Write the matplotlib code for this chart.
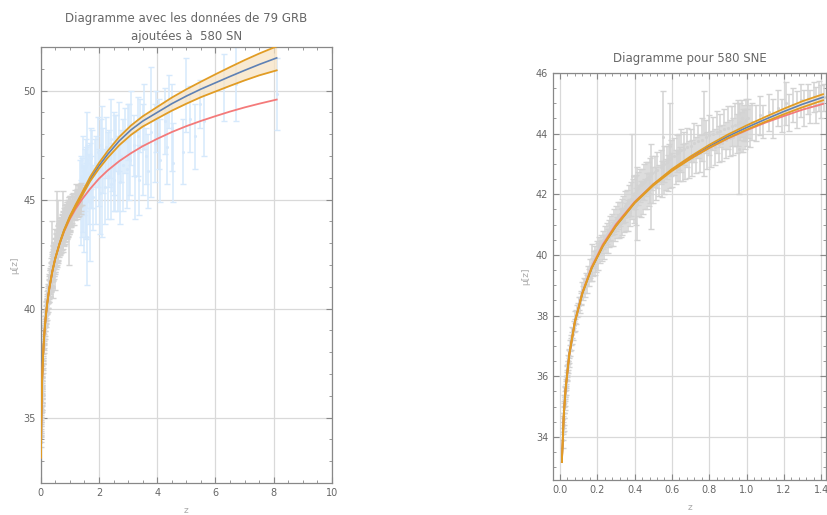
import numpy as np
import matplotlib.pyplot as plt
from matplotlib.ticker import MultipleLocator

sn_z = [0.015, 0.016, 0.017, 0.018, 0.019, 0.02, 0.021, 0.022, 0.023, 0.024,
        0.025, 0.026, 0.027, 0.028, 0.029, 0.03, 0.031, 0.032, 0.034, 0.035,
        0.037, 0.038, 0.04, 0.041, 0.043, 0.045, 0.047, 0.049, 0.05, 0.052,
        0.055, 0.058, 0.06, 0.063, 0.066, 0.07, 0.074, 0.078, 0.083, 0.088,
        0.092, 0.097, 0.1, 0.105, 0.11, 0.115, 0.12, 0.125, 0.13, 0.135,
        0.14, 0.145, 0.15, 0.155, 0.16, 0.165, 0.17, 0.175, 0.18, 0.185,
        0.19, 0.195, 0.2, 0.205, 0.21, 0.215, 0.22, 0.225, 0.23, 0.235,
        0.24, 0.245, 0.25, 0.255, 0.26, 0.265, 0.27, 0.275, 0.28, 0.285,
        0.29, 0.295, 0.3, 0.305, 0.31, 0.315, 0.32, 0.325, 0.33, 0.335,
        0.34, 0.345, 0.35, 0.355, 0.36, 0.365, 0.37, 0.375, 0.38, 0.385,
        0.39, 0.395, 0.4, 0.405, 0.41, 0.415, 0.42, 0.425, 0.43, 0.435,
        0.44, 0.445, 0.45, 0.455, 0.46, 0.465, 0.47, 0.475, 0.48, 0.485,
        0.49, 0.495, 0.5, 0.51, 0.515, 0.52, 0.53, 0.54, 0.545, 0.55,
        0.555, 0.56, 0.57, 0.575, 0.58, 0.585, 0.59, 0.595, 0.6, 0.61,
        0.62, 0.625, 0.63, 0.64, 0.645, 0.65, 0.66, 0.665, 0.67, 0.68,
        0.69, 0.7, 0.71, 0.72, 0.73, 0.74, 0.75, 0.76, 0.77, 0.78,
        0.79, 0.8, 0.81, 0.82, 0.83, 0.84, 0.85, 0.86, 0.87, 0.88,
        0.89, 0.9, 0.91, 0.92, 0.93, 0.94, 0.95, 0.955, 0.96, 0.965,
        0.97, 0.975, 0.98, 0.985, 0.99, 0.995, 1.0, 1.01, 1.02, 1.03,
        1.05, 1.07, 1.09, 1.12, 1.14, 1.17, 1.19, 1.21, 1.23, 1.25,
        1.27, 1.29, 1.31, 1.33, 1.34, 1.36, 1.37, 1.39, 1.4, 1.414]
sn_mu = [34.1, 33.9, 34.3, 34.5, 34.4, 34.8, 34.6, 34.95, 35.0, 35.2,
         35.1, 35.35, 35.2, 35.5, 35.45, 35.7, 35.55, 35.75, 35.85, 36.0,
         36.05, 36.2, 36.15, 36.35, 36.3, 36.55, 36.5, 36.75, 36.65, 36.85,
         37.0, 37.05, 37.2, 37.25, 37.45, 37.4, 37.65, 37.7, 37.95, 37.95,
         38.15, 38.2, 38.4, 38.35, 38.6, 38.55, 38.85, 38.75, 39.0, 38.9,
         39.2, 39.05, 39.4, 39.25, 39.55, 39.4, 39.75, 39.6, 39.85, 39.65,
         40.0, 39.8, 40.15, 39.95, 40.3, 40.1, 40.35, 40.15, 40.5, 40.25,
         40.6, 40.35, 40.7, 40.45, 40.8, 40.55, 40.9, 40.65, 41.0, 40.7,
         41.1, 40.8, 41.2, 40.9, 41.3, 40.95, 41.35, 41.05, 41.45, 41.1,
         41.5, 41.15, 41.6, 41.25, 41.7, 41.3, 41.8, 41.4, 41.85, 42.6,
         42.0, 41.55, 42.05, 41.6, 42.15, 41.7, 42.2, 41.8, 42.3, 41.85,
         42.35, 41.9, 42.4, 42.0, 42.5, 42.1, 42.55, 42.15, 42.6, 42.2,
         42.25, 42.7, 42.3, 42.75, 42.35, 42.8, 42.45, 42.9, 42.5, 43.9,
         42.55, 43.0, 42.65, 43.05, 42.7, 43.15, 43.6, 43.2, 42.8, 43.25,
         42.9, 43.35, 42.95, 43.4, 43.0, 43.45, 43.05, 43.5, 43.1, 43.55,
         43.15, 43.6, 43.2, 43.7, 43.3, 43.75, 43.35, 43.8, 44.0, 43.9,
         43.45, 43.95, 43.5, 44.0, 43.55, 44.05, 43.65, 44.1, 43.7, 44.15,
         43.8, 44.2, 43.85, 44.25, 43.9, 44.3, 44.0, 44.35, 43.5, 44.4,
         44.05, 44.5, 44.1, 44.35, 44.15, 44.45, 44.2, 44.5, 44.25, 44.4,
         44.35, 44.6, 44.4, 44.7, 44.5, 44.85, 44.6, 45.0, 44.7, 44.95,
         44.8, 45.1, 44.85, 45.15, 44.9, 45.2, 44.95, 45.25, 45.05, 45.2]
sn_err = [0.2, 0.25, 0.2, 0.2, 0.22, 0.18, 0.2, 0.17, 0.2, 0.18,
          0.2, 0.16, 0.18, 0.17, 0.2, 0.16, 0.18, 0.15, 0.17, 0.15,
          0.16, 0.17, 0.18, 0.15, 0.2, 0.16, 0.18, 0.15, 0.2, 0.17,
          0.18, 0.2, 0.17, 0.2, 0.18, 0.2, 0.18, 0.2, 0.2, 0.22,
          0.2, 0.22, 0.2, 0.25, 0.22, 0.2, 0.25, 0.22, 0.25, 0.3,
          0.22, 0.3, 0.25, 0.28, 0.3, 0.25, 0.6, 0.3, 0.28, 0.3,
          0.3, 0.35, 0.3, 0.45, 0.3, 0.35, 0.3, 0.35, 0.3, 0.4,
          0.35, 0.3, 0.35, 0.4, 0.35, 0.3, 0.4, 0.35, 0.35, 0.4,
          0.4, 0.35, 0.4, 0.35, 0.45, 0.4, 0.4, 0.45, 0.4, 0.45,
          0.45, 0.4, 0.5, 0.45, 0.45, 0.5, 0.5, 0.45, 0.55, 1.4,
          0.5, 0.5, 0.55, 0.6, 0.5, 1.2, 0.55, 0.5, 0.55, 0.6,
          0.5, 0.55, 0.6, 0.5, 0.55, 0.6, 0.5, 0.55, 0.6, 0.5,
          1.4, 0.55, 0.6, 0.5, 0.55, 0.6, 0.5, 0.55, 0.6, 1.5,
          0.55, 0.6, 0.5, 0.55, 0.6, 0.5, 1.4, 0.6, 0.55, 0.6,
          0.55, 0.6, 0.5, 0.6, 0.55, 0.7, 0.6, 0.55, 0.6, 0.65,
          0.6, 0.55, 0.6, 0.65, 0.6, 0.55, 0.6, 0.7, 1.4, 0.55,
          0.6, 0.65, 0.6, 0.55, 0.6, 0.7, 0.6, 0.55, 0.6, 0.65,
          0.6, 0.7, 0.6, 0.65, 0.6, 0.7, 0.65, 0.75, 1.5, 0.6,
          0.65, 0.6, 0.7, 0.6, 0.65, 0.7, 0.6, 0.65, 0.7, 0.6,
          0.6, 0.65, 0.55, 0.6, 0.65, 0.6, 0.55, 0.7, 0.6, 0.55,
          0.6, 0.55, 0.6, 0.5, 0.55, 0.5, 0.6, 0.5, 0.55, 0.45]

# donnees GRB (graphe de gauche)
grb_z = [1.35, 1.38, 1.40, 1.42, 1.44, 1.46, 1.48, 1.50, 1.52, 1.54,
         1.55, 1.57, 1.58, 1.60, 1.61, 1.65, 1.69, 1.71, 1.73, 1.77,
         1.80, 1.85, 1.90, 1.95, 2.00, 2.05, 2.07, 2.10, 2.14, 2.20,
         2.25, 2.30, 2.35, 2.40, 2.43, 2.45, 2.50, 2.52, 2.55, 2.60,
         2.66, 2.70, 2.71, 2.75, 2.82, 2.90, 2.95, 3.00, 3.04, 3.08,
         3.10, 3.20, 3.24, 3.35, 3.36, 3.42, 3.50, 3.53, 3.60, 3.70,
         3.80, 3.91, 3.97, 4.05, 4.10, 4.27, 4.35, 4.41, 4.50, 4.53,
         4.90, 5.00, 5.11, 5.30, 5.47, 5.60, 6.29, 6.70, 8.10]
grb_mu = [45.6, 44.4, 46.0, 45.1, 44.8, 46.3, 45.4, 44.6, 45.9, 46.6,
          45.0, 45.3, 46.8, 43.3, 46.2, 45.5, 44.9, 46.9, 45.8, 46.4,
          45.1, 46.7, 45.9, 47.2, 46.0, 45.3, 47.5, 46.3, 46.8, 45.6,
          47.4, 46.1, 46.9, 45.7, 47.8, 46.5, 47.1, 45.9, 46.7, 47.6,
          46.2, 47.9, 45.8, 47.0, 46.6, 47.7, 46.4, 48.1, 47.2, 46.8,
          48.3, 47.5, 46.1, 47.9, 45.9, 48.4, 47.3, 48.8, 47.0, 46.3,
          48.1, 47.6, 48.6, 48.0, 46.8, 48.6, 47.4, 49.5, 48.3, 46.7,
          47.2, 49.8, 48.7, 47.9, 49.4, 48.6, 50.15, 50.3, 49.85]
grb_err = [1.2, 1.5, 1.0, 1.8, 1.3, 1.6, 1.1, 2.0, 1.4, 1.2,
           1.7, 2.1, 2.2, 2.2, 1.3, 1.6, 2.7, 1.4, 1.2, 1.8,
           1.5, 1.1, 2.0, 1.6, 1.3, 1.9, 1.2, 3.0, 1.5, 1.7,
           1.4, 2.0, 1.3, 1.6, 1.8, 1.1, 1.9, 1.4, 2.2, 1.3,
           1.7, 1.6, 1.9, 1.2, 2.1, 1.5, 1.8, 1.3, 2.2, 1.6,
           1.7, 1.4, 2.0, 1.8, 1.6, 1.2, 2.1, 1.5, 1.3, 1.7,
           3.0, 1.8, 1.4, 1.6, 1.9, 1.5, 1.7, 1.2, 2.0, 1.8,
           1.5, 1.7, 1.5, 1.5, 1.1, 1.6, 1.55, 1.7, 1.65]

cg_z = [0.01, 0.02, 0.03, 0.05, 0.07, 0.1, 0.13, 0.17, 0.22, 0.3,
        0.4, 0.5, 0.65, 0.8, 1.0, 1.2, 1.4, 1.7, 2.0, 2.3,
        2.7, 3.1, 3.5, 4.0, 4.5, 5.0, 5.5, 6.0, 6.5, 7.0,
        7.5, 8.1]
cg_rouge = [33.17, 34.7, 35.58, 36.73, 37.48, 38.31, 38.93, 39.57, 40.2, 40.96,
            41.71, 42.3, 42.99, 43.53, 44.11, 44.58, 44.98, 45.5, 45.96, 46.34,
            46.77, 47.13, 47.45, 47.79, 48.1, 48.37, 48.61, 48.83, 49.04, 49.23,
            49.4, 49.59]
cg_bleu = [33.17, 34.7, 35.58, 36.73, 37.48, 38.31, 38.93, 39.57, 40.2, 40.96,
           41.71, 42.3, 42.99, 43.58, 44.2, 44.72, 45.2, 45.95, 46.55, 47.08,
           47.7, 48.2, 48.6, 49.0, 49.4, 49.75, 50.07, 50.36, 50.65, 50.93,
           51.2, 51.5]
cg_haut = [33.17, 34.7, 35.58, 36.73, 37.48, 38.31, 38.93, 39.57, 40.2, 40.96,
           41.72, 42.31, 43.01, 43.6, 44.24, 44.77, 45.27, 46.05, 46.68, 47.23,
           47.88, 48.4, 48.82, 49.25, 49.68, 50.06, 50.41, 50.75, 51.08, 51.4,
           51.7, 52.03]
cg_bas = [33.17, 34.7, 35.58, 36.73, 37.48, 38.31, 38.93, 39.57, 40.2, 40.96,
          41.7, 42.29, 42.97, 43.55, 44.16, 44.67, 45.13, 45.85, 46.42, 46.92,
          47.5, 47.97, 48.35, 48.72, 49.08, 49.4, 49.7, 49.96, 50.22, 50.47,
          50.7, 50.93]

cd_z = [0.01, 0.02, 0.03, 0.05, 0.08, 0.12, 0.17, 0.23, 0.3, 0.4,
        0.5, 0.6, 0.7, 0.8, 0.9, 1.0, 1.1, 1.2, 1.3, 1.41]
cd_rouge = [33.17, 34.7, 35.58, 36.73, 37.8, 38.76, 39.61, 40.35, 41.01, 41.75,
            42.33, 42.8, 43.19, 43.53, 43.84, 44.11, 44.36, 44.58, 44.79, 44.98]
cd_bleu = [33.17, 34.7, 35.58, 36.73, 37.8, 38.74, 39.57, 40.3, 40.96, 41.72,
           42.31, 42.8, 43.21, 43.58, 43.91, 44.2, 44.47, 44.73, 44.97, 45.2]
cd_haut = [33.17, 34.7, 35.58, 36.73, 37.8, 38.74, 39.57, 40.3, 40.97, 41.73,
           42.33, 42.83, 43.25, 43.63, 43.97, 44.27, 44.55, 44.82, 45.07, 45.3]
cd_bas = [33.17, 34.7, 35.58, 36.73, 37.8, 38.74, 39.57, 40.3, 40.95, 41.71,
          42.29, 42.77, 43.17, 43.53, 43.85, 44.13, 44.39, 44.64, 44.87, 45.1]

BLEU = '#5e81b5'
ORANGE = '#e19c24'
ROUGE = '#f47a7a'
BANDE = '#f8e4c4'
GRIS_SN = '#d3d3d3'
BLEU_GRB = '#d6e9fc'
TXT = '#666666'


def cadre(ax, xmaj, xmin, ymaj, ymin):
    ax.xaxis.set_major_locator(MultipleLocator(xmaj))
    ax.xaxis.set_minor_locator(MultipleLocator(xmin))
    ax.yaxis.set_major_locator(MultipleLocator(ymaj))
    ax.yaxis.set_minor_locator(MultipleLocator(ymin))
    ax.tick_params(which='both', direction='in', top=True, right=True,
                   color='#888888', labelsize=7, labelcolor=TXT)
    ax.tick_params(which='major', length=4, width=0.8)
    ax.tick_params(which='minor', length=2.5, width=0.6)
    for s in ax.spines.values():
        s.set_color('#888888')
        s.set_linewidth(0.9)
    ax.grid(True, which='major', color='#d9d9d9', linewidth=0.9)
    ax.set_axisbelow(True)


def courbes(ax, z, rouge, bleu, haut, bas):
    ax.fill_between(z, bas, haut, color=BANDE, alpha=0.75, lw=0, zorder=2.5)
    ax.plot(z, bleu, color=BLEU, lw=1.2, zorder=3)
    ax.plot(z, rouge, color=ROUGE, lw=1.3, zorder=4)
    ax.plot(z, haut, color=ORANGE, lw=1.3, zorder=5)
    ax.plot(z, bas, color=ORANGE, lw=1.3, zorder=5)


fig = plt.figure(figsize=(8.27, 5.15), dpi=100)

# graphe de gauche
ax1 = fig.add_axes([0.0492, 0.0621, 0.3523, 0.8466])
ax1.errorbar(grb_z, grb_mu, yerr=grb_err, fmt='o', ms=1.2, color=BLEU_GRB,
             ecolor=BLEU_GRB, elinewidth=1.1, capsize=2, capthick=1, zorder=1)
ax1.errorbar(sn_z, sn_mu, yerr=sn_err, fmt='o', ms=1.2, color=GRIS_SN,
             ecolor=GRIS_SN, elinewidth=1.1, capsize=2, capthick=1, zorder=1.5)
courbes(ax1, cg_z, cg_rouge, cg_bleu, cg_haut, cg_bas)
ax1.set_xlim(0, 10)
ax1.set_ylim(32, 52)
cadre(ax1, 2, 0.5, 5, 1)
ax1.set_title('Diagramme avec les données de 79 GRB\najoutées à  580 SN',
              fontsize=8.5, color=TXT, linespacing=1.5, pad=5)
ax1.set_xlabel('z', fontsize=6.5, color='#aaaaaa', labelpad=6)
ax1.set_ylabel('μ[z]', fontsize=6.5, color='#aaaaaa', labelpad=3)

# graphe de droite
ax2 = fig.add_axes([0.6687, 0.068, 0.3301, 0.7903])
ax2.errorbar(sn_z, sn_mu, yerr=sn_err, fmt='o', ms=1.2, color=GRIS_SN,
             ecolor=GRIS_SN, elinewidth=1.1, capsize=2, capthick=1, zorder=1.5)
courbes(ax2, cd_z, cd_rouge, cd_bleu, cd_haut, cd_bas)
ax2.set_xlim(-0.0375, 1.426)
ax2.set_ylim(32.58, 46)
cadre(ax2, 0.2, 0.04, 2, 0.5)
ax2.xaxis.set_major_formatter(plt.FuncFormatter(lambda v, p: '%.1f' % v))
ax2.set_title('Diagramme pour 580 SNE', fontsize=8.5, color=TXT, pad=8)
ax2.set_xlabel('z', fontsize=6.5, color='#aaaaaa', labelpad=6)
ax2.set_ylabel('μ[z]', fontsize=6.5, color='#aaaaaa', labelpad=4)

fig.savefig('out.png', dpi=100)
